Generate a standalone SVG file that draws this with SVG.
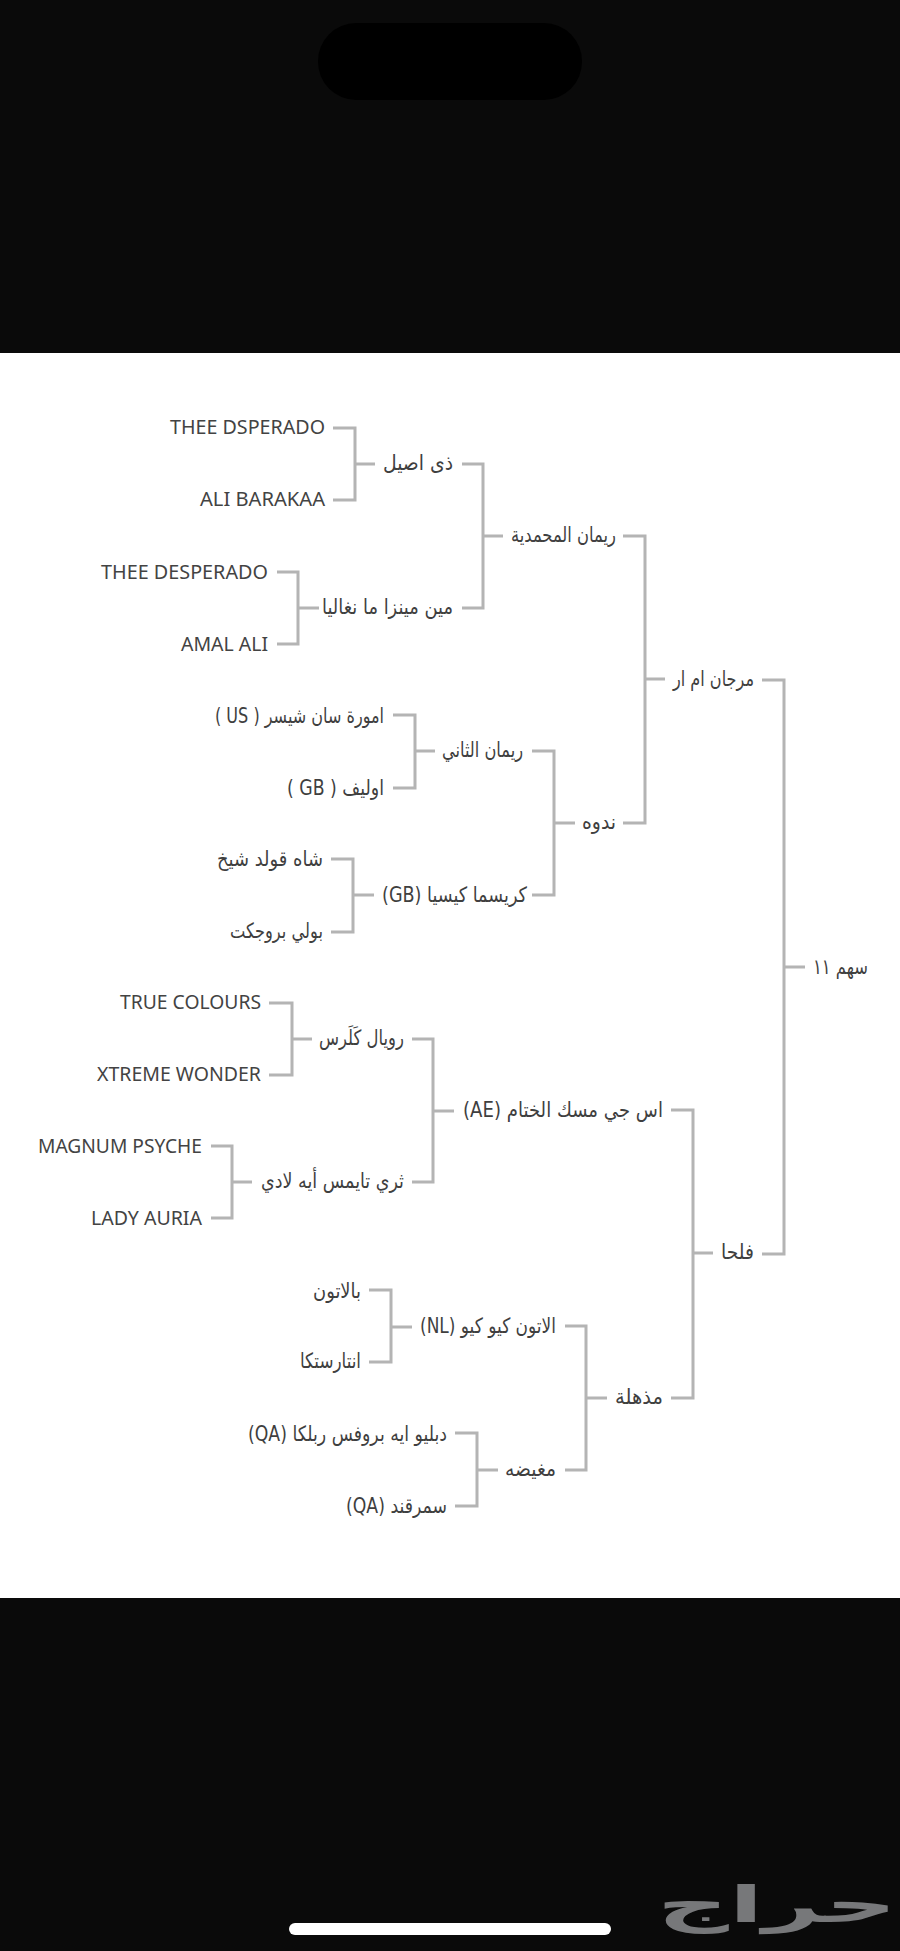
<svg xmlns="http://www.w3.org/2000/svg" width="900" height="1951" viewBox="0 0 900 1951">
<style>
.l{font-family:"Noto Sans","Liberation Sans",sans-serif;font-size:20px;fill:#434343;text-anchor:end}
.a{font-family:"DejaVu Sans","Noto Sans",sans-serif;font-size:21px;fill:#3f3f3f;direction:rtl;text-anchor:start}
.c{fill:none;stroke:#b4b4b4;stroke-width:3}
</style>
<rect id="top-band" width="900" height="353" fill="#0a0a0a"/>
<rect id="notch" x="318" y="23" width="264" height="77" rx="38" fill="#000"/>
<rect id="sheet" y="353" width="900" height="1245" fill="#fff"/>
<rect id="bottom-band" y="1598" width="900" height="353" fill="#0a0a0a"/>
<rect id="home-bar" x="289" y="1923" width="322" height="12" rx="6" fill="#fff"/>
<text id="logo" x="897" y="1922" direction="rtl" font-family="DejaVu Sans, sans-serif" font-size="50" font-weight="bold" fill="#77787a" textLength="240" lengthAdjust="spacingAndGlyphs">حراج</text>
<g id="connectors" class="c">
<path d="M333 428H355V500H333M355 464H375"/>
<path d="M277 572H298V644H277M298 608H319"/>
<path d="M462 464H483V608H462M483 536H503"/>
<path d="M393 715H415V788H393M415 751H435"/>
<path d="M331 859H353V932H331M353 895H374"/>
<path d="M532 751H554V895H532M554 823H575"/>
<path d="M623 536H645V823H623M645 679H665"/>
<path d="M269 1003H292V1075H269M292 1039H312"/>
<path d="M211 1146H232V1218H211M232 1182H252"/>
<path d="M412 1039H433V1182H412M433 1111H454"/>
<path d="M369 1290H391V1362H369M391 1327H412"/>
<path d="M455 1433H477V1506H455M477 1470H498"/>
<path d="M565 1326H586V1470H565M586 1398H607"/>
<path d="M671 1110H693V1398H671M693 1253H713"/>
<path d="M762 680H784V1254H762M784 967H805"/>
</g>
<g id="n1"><text class="l" x="325" y="434" textLength="155" lengthAdjust="spacingAndGlyphs">THEE DSPERADO</text></g>
<g id="n2"><text class="l" x="325" y="506" textLength="125" lengthAdjust="spacingAndGlyphs">ALI BARAKAA</text></g>
<g id="n3"><text class="l" x="268" y="579" textLength="167" lengthAdjust="spacingAndGlyphs">THEE DESPERADO</text></g>
<g id="n4"><text class="l" x="268" y="651" textLength="87" lengthAdjust="spacingAndGlyphs">AMAL ALI</text></g>
<g id="n5"><text class="a" x="453" y="470" textLength="70" lengthAdjust="spacingAndGlyphs">ذى اصيل</text></g>
<g id="n6"><text class="a" x="453" y="614" textLength="131" lengthAdjust="spacingAndGlyphs">مين مينزا ما نغاليا</text></g>
<g id="n7"><text class="a" x="616" y="542" textLength="105" lengthAdjust="spacingAndGlyphs">ريمان المحمدية</text></g>
<g id="n8"><text class="a" x="384" y="723" textLength="169" lengthAdjust="spacingAndGlyphs">امورة سان شيسر ( US )</text></g>
<g id="n9"><text class="a" x="384" y="795" textLength="97" lengthAdjust="spacingAndGlyphs">اوليف ( GB )</text></g>
<g id="n10"><text class="a" x="523" y="757" textLength="81" lengthAdjust="spacingAndGlyphs">ريمان الثاني</text></g>
<g id="n11"><text class="a" x="323" y="866" textLength="106" lengthAdjust="spacingAndGlyphs">شاه قولد شيخ</text></g>
<g id="n12"><text class="a" x="323" y="938" textLength="93" lengthAdjust="spacingAndGlyphs">بولي بروجكت</text></g>
<g id="n13"><text class="a" x="527" y="902" textLength="145" lengthAdjust="spacingAndGlyphs">كريسما كيسيا (GB)</text></g>
<g id="n14"><text class="a" x="616" y="829" textLength="34" lengthAdjust="spacingAndGlyphs">ندوه</text></g>
<g id="n15"><text class="a" x="754" y="686" textLength="81" lengthAdjust="spacingAndGlyphs">مرجان ام ار</text></g>
<g id="n16"><text class="a" x="868" y="974" textLength="55" lengthAdjust="spacingAndGlyphs">سهم ١١</text></g>
<g id="n17"><text class="l" x="261" y="1009" textLength="141" lengthAdjust="spacingAndGlyphs">TRUE COLOURS</text></g>
<g id="n18"><text class="l" x="261" y="1081" textLength="164" lengthAdjust="spacingAndGlyphs">XTREME WONDER</text></g>
<g id="n19"><text class="l" x="202" y="1153" textLength="164" lengthAdjust="spacingAndGlyphs">MAGNUM PSYCHE</text></g>
<g id="n20"><text class="l" x="202" y="1225" textLength="111" lengthAdjust="spacingAndGlyphs">LADY AURIA</text></g>
<g id="n21"><text class="a" x="404" y="1045" textLength="85" lengthAdjust="spacingAndGlyphs">رويال كَلَرس</text></g>
<g id="n22"><text class="a" x="404" y="1188" textLength="143" lengthAdjust="spacingAndGlyphs">ثري تايمس أيه لادي</text></g>
<g id="n23"><text class="a" x="663" y="1117" textLength="200" lengthAdjust="spacingAndGlyphs">اس جي مسك الختام (AE)</text></g>
<g id="n24"><text class="a" x="361" y="1298" textLength="48" lengthAdjust="spacingAndGlyphs">بالاتون</text></g>
<g id="n25"><text class="a" x="361" y="1368" textLength="61" lengthAdjust="spacingAndGlyphs">انتارستكا</text></g>
<g id="n26"><text class="a" x="447" y="1441" textLength="199" lengthAdjust="spacingAndGlyphs">دبليو ايه بروفس ربلكا (QA)</text></g>
<g id="n27"><text class="a" x="447" y="1513" textLength="101" lengthAdjust="spacingAndGlyphs">سمرقند (QA)</text></g>
<g id="n28"><text class="a" x="556" y="1333" textLength="136" lengthAdjust="spacingAndGlyphs">الاتون كيو كيو (NL)</text></g>
<g id="n29"><text class="a" x="556" y="1476" textLength="51" lengthAdjust="spacingAndGlyphs">مغيضه</text></g>
<g id="n30"><text class="a" x="663" y="1404" textLength="48" lengthAdjust="spacingAndGlyphs">مذهلة</text></g>
<g id="n31"><text class="a" x="754" y="1259" textLength="33" lengthAdjust="spacingAndGlyphs">فلحا</text></g>
</svg>
